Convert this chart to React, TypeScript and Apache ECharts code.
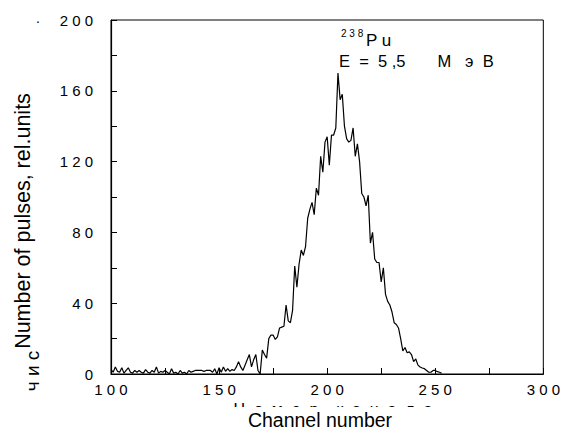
import React, { useEffect, useRef } from "react";
import * as echarts from "echarts";

const firstChannel = 100;
const counts: number[] = [
  2.5, 1, 4, 1.5, 1, 3.5, 0.5, 2, 3.5, 1,
  0.5, 2, 1, 2, 1, 0.5, 2.5, 1, 0.5, 2,
  1, 4, 0.5, 1.5, 1, 2, 1, 0, 3, 0.5,
  1, 0, 2, 0.5, 1, 0, 2, 1, 1.5, 2,
  2, 2, 2, 1.5, 2, 2, 2, 1, 3, 0,
  3.5, 1, 4, 1.5, 3, 1.5, 2.5, 2, 4, 7,
  4, 2, 5, 8, 11, 4, 8, 11, 2, 0,
  13.5, 11, 9, 20, 22, 22, 19.5, 21, 26, 26.5,
  27, 39, 30, 29, 36, 61, 49, 62, 70, 67,
  72, 88, 93, 97, 90, 105, 101, 123, 114, 131,
  134, 118, 135, 135, 139, 170, 155, 158, 140, 133,
  131, 132, 139, 123, 130, 120, 102, 100, 95, 101,
  74, 80, 65, 63, 63, 52, 60, 45, 41, 39,
  35, 29, 28, 26, 20, 13, 15, 12, 12.5, 11,
  7, 8.5, 5, 4, 3.4, 3, 2, 1, 1, 2,
  2, 1.3, 1, 0.4,
];
const channels: number[] = counts.map((_, i) => firstChannel + i);

const xTickLabels = [100, 150, 200, 250, 300];
const yTickLabels = [0, 40, 80, 120, 160, 200];

const xTitle = "Channel number";
const yTitle = "Number of pulses, rel.units";
const hiddenXTitle = "Н  о  м  е  р    к  а  н  а  л  а";
const hiddenYTitle = "ч и с";
const isotopeMass = "2 3 8";
const isotopeName = "P u";
const energyText = "E  =  5 ,5       М   э  В";

const spaced = (v: number) => String(v).split("").join(" ");
const FONT = "Liberation Sans, Arial, sans-serif";

export default function App() {
  const ref = useRef<HTMLDivElement>(null);
  useEffect(() => {
    if (!ref.current) return;
    const chart = echarts.init(ref.current, null, { renderer: "svg" });
    const data = channels.map((c, i) => [c, counts[i]]);
    chart.setOption({
      animation: false,
      backgroundColor: "#ffffff",
      grid: {
        left: 111,
        right: 18,
        top: 20,
        bottom: 60,
        show: true,
        borderColor: "#000",
        borderWidth: 1,
        backgroundColor: "transparent",
      },
      xAxis: {
        type: "value",
        min: 100,
        max: 300,
        interval: 25,
        axisLine: { lineStyle: { color: "#000", width: 1.2 } },
        axisTick: { inside: true, length: 6, lineStyle: { color: "#000", width: 1 } },
        splitLine: { show: false },
        axisLabel: {
          margin: 8,
          color: "#000",
          fontSize: 15,
          fontFamily: FONT,
          formatter: (v: number) => (xTickLabels.includes(v) ? spaced(v) : ""),
        },
      },
      yAxis: {
        type: "value",
        min: 0,
        max: 200,
        interval: 20,
        axisLine: { show: true, lineStyle: { color: "#000", width: 1.2 } },
        axisTick: { show: true, inside: true, length: 6, lineStyle: { color: "#000", width: 1 } },
        splitLine: { show: false },
        axisLabel: {
          margin: 18,
          color: "#000",
          fontSize: 15,
          fontFamily: FONT,
          formatter: (v: number) => (yTickLabels.includes(v) ? spaced(v) : ""),
        },
      },
      series: [
        {
          type: "line",
          data,
          symbol: "none",
          lineStyle: { color: "#000", width: 1.2 },
          z: 3,
        },
      ],
      graphic: [
        {
          type: "text",
          x: 333,
          y: 401,
          z: 1,
          style: {
            text: hiddenXTitle,
            fontSize: 16,
            fontFamily: FONT,
            fill: "#000",
            textAlign: "center",
            textVerticalAlign: "top",
          },
        },
        {
          type: "rect",
          z: 2,
          shape: { x: 150, y: 407, width: 350, height: 30 },
          style: { fill: "#fff" },
        },
        {
          type: "text",
          x: 320,
          y: 420,
          z: 3,
          style: {
            text: xTitle,
            fontSize: 19.5,
            fontFamily: FONT,
            fill: "#000",
            textAlign: "center",
            textVerticalAlign: "middle",
          },
        },
        {
          type: "text",
          x: 23,
          y: 221,
          rotation: Math.PI / 2,
          style: {
            text: yTitle,
            fontSize: 21.5,
            fontFamily: FONT,
            fill: "#000",
            textAlign: "center",
            textVerticalAlign: "middle",
          },
        },
        {
          type: "text",
          x: 32,
          y: 371,
          rotation: Math.PI / 2,
          style: {
            text: hiddenYTitle,
            fontSize: 19,
            fontFamily: FONT,
            fill: "#000",
            textAlign: "center",
            textVerticalAlign: "middle",
          },
        },
        {
          type: "text",
          x: 38,
          y: 18,
          style: {
            text: ".",
            fontSize: 14,
            fontFamily: FONT,
            fill: "#000",
            textAlign: "center",
            textVerticalAlign: "middle",
          },
        },
        {
          type: "text",
          x: 341,
          y: 33,
          style: {
            text: isotopeMass,
            fontSize: 10,
            fontFamily: FONT,
            fill: "#000",
            textAlign: "left",
            textVerticalAlign: "middle",
          },
        },
        {
          type: "text",
          x: 366,
          y: 40,
          style: {
            text: isotopeName,
            fontSize: 17,
            fontFamily: FONT,
            fill: "#000",
            textAlign: "left",
            textVerticalAlign: "middle",
          },
        },
        {
          type: "text",
          x: 339,
          y: 61,
          style: {
            text: energyText,
            fontSize: 16.5,
            fontFamily: FONT,
            fill: "#000",
            textAlign: "left",
            textVerticalAlign: "middle",
          },
        },
      ],
    });
    return () => chart.dispose();
  }, []);
  return (
    <div
      ref={ref}
      style={{ position: "absolute", left: 0, top: 0, width: 563, height: 434 }}
    />
  );
}
